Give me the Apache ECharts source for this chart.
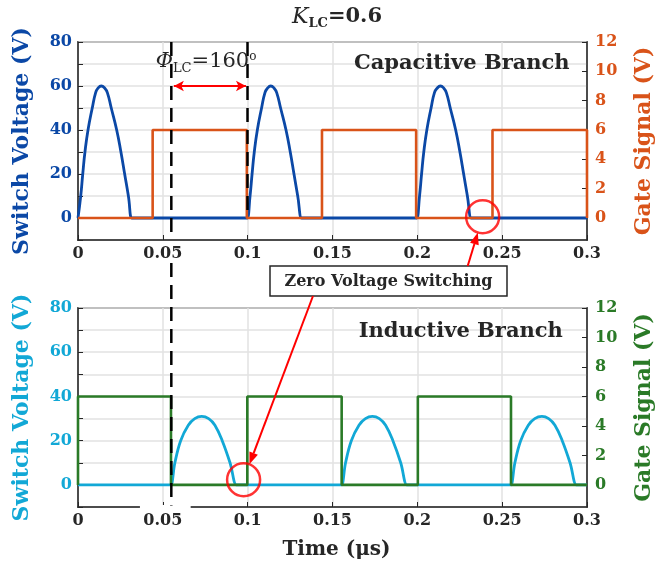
<!DOCTYPE html>
<html><head><meta charset="utf-8">
<script src="https://cdn.jsdelivr.net/npm/echarts@6/dist/echarts.min.js"></script>
<style>html,body{margin:0;padding:0;background:#fff}#c{width:655px;height:564px}</style>
</head><body><div id="c"></div>
<script>
// ---- data ----
const xTickValues = [0, 0.05, 0.1, 0.15, 0.2, 0.25, 0.3];
const voltTickValues = [0, 20, 40, 60, 80];
const gateTickValues = [0, 2, 4, 6, 8, 10, 12];

// Capacitive branch switch voltage (V) vs time (us)
const capSwitchT = [0, 0.0016, 0.0028, 0.0041, 0.0059, 0.0084, 0.0104, 0.0118, 0.0137, 0.0158, 0.0173, 0.0196, 0.0228, 0.0253, 0.0275, 0.0297, 0.0316, 0.0321,
  0.0993, 0.0998, 0.1014, 0.1026, 0.1039, 0.1057, 0.1082, 0.1102, 0.1117, 0.1136, 0.1156, 0.1171, 0.1194, 0.1226, 0.1251, 0.1273, 0.1295, 0.1318, 0.1323,
  0.1992, 0.1997, 0.2013, 0.2025, 0.2038, 0.2056, 0.2081, 0.2101, 0.2117, 0.2136, 0.2156, 0.2171, 0.2194, 0.2226, 0.2251, 0.2273, 0.2295, 0.2318, 0.2323, 0.3];
const capSwitchV = [0, 10, 20, 30, 40, 50, 57, 59, 60, 59, 57, 50, 40, 30, 20, 10, 0, 0,
  0, 0, 10, 20, 30, 40, 50, 57, 59, 60, 59, 57, 50, 40, 30, 20, 10, 0, 0,
  0, 0, 10, 20, 30, 40, 50, 57, 59, 60, 59, 57, 50, 40, 30, 20, 10, 0, 0, 0];
// Capacitive branch gate signal (V)
const capGateT = [0, 0.044, 0.044, 0.0995, 0.0995, 0.1438, 0.1438, 0.1993, 0.1993, 0.2443, 0.2443, 0.3, 0.3];
const capGateV = [0, 0, 6, 6, 0, 0, 6, 6, 0, 0, 6, 6, 0];

// Inductive branch switch voltage (V)
const indSwitchT = [0, 0.0543, 0.0548, 0.0571, 0.0605, 0.0650, 0.0688, 0.0729, 0.0770, 0.0807, 0.0850, 0.0896, 0.0933, 0.0938,
  0.1549, 0.1554, 0.1577, 0.1611, 0.1656, 0.1694, 0.1735, 0.1776, 0.1813, 0.1856, 0.1902, 0.1938, 0.1943,
  0.2547, 0.2552, 0.2575, 0.2609, 0.2654, 0.2692, 0.2734, 0.2774, 0.2811, 0.2854, 0.2900, 0.2937, 0.2942, 0.3];
const indSwitchV = [0, 0, 0, 10, 20, 27, 30, 31, 30, 27, 20, 10, 0, 0,
  0, 0, 10, 20, 27, 30, 31, 30, 27, 20, 10, 0, 0,
  0, 0, 10, 20, 27, 30, 31, 30, 27, 20, 10, 0, 0, 0];
// Inductive branch gate signal (V)
const indGateT = [0, 0, 0.0548, 0.0548, 0.0998, 0.0998, 0.1554, 0.1554, 0.2003, 0.2003, 0.2552, 0.2552, 0.3];
const indGateV = [0, 6, 6, 0, 0, 6, 6, 0, 0, 6, 6, 0, 0];

// annotations (data coordinates)
const phaseStart = 0.055, phaseEnd = 0.0995, phaseArrowY = 60;
const zvsCap = [0.2385, 0.6];
const zvsInd = [0.0976, 2.3];

// ---- styling ----
const FONT = 'DejaVu Serif';
const INK = '#262626';
const C_BLUE = '#0b48a6', C_ORANGE = '#d95319', C_CYAN = '#12a8d6', C_GREEN = '#2a7a27';
const zip = (a, b) => a.map((v, i) => [v, b[i]]);

const chart = echarts.init(document.getElementById('c'), null, {renderer: 'canvas'});

function xAxis(gi, showName) {
  return {
    type: 'value', gridIndex: gi, min: 0, max: 0.3, interval: 0.05,
    name: showName ? 'Time (μs)' : '', nameLocation: 'middle', nameGap: 33,
    nameTextStyle: {fontFamily: FONT, fontWeight: 'bold', fontSize: 20, color: INK, padding: [0, 0, 0, 8]},
    axisLine: {show: true, onZero: false, lineStyle: {color: INK, width: 1.5}},
    axisTick: {show: true, inside: true, length: 5, lineStyle: {color: INK, width: 1}},
    axisLabel: {fontFamily: FONT, fontWeight: 'bold', fontSize: 16, color: INK, margin: 6,
      customValues: xTickValues, formatter: v => String(+v.toFixed(2))},
    splitLine: {show: true, lineStyle: {color: '#e2e2e2', width: 1.5}}
  };
}
function yLeft(gi, color) {
  return {
    type: 'value', gridIndex: gi, min: -10, max: 80, interval: 10, position: 'left',
    name: 'Switch Voltage (V)', nameLocation: 'middle', nameGap: 45,
    nameTextStyle: {fontFamily: FONT, fontWeight: 'bold', fontSize: 22, color: color},
    axisLine: {show: true, lineStyle: {color: INK, width: 1.5}},
    axisTick: {show: true, inside: true, length: 5, lineStyle: {color: INK, width: 1}},
    axisLabel: {fontFamily: FONT, fontWeight: 'bold', fontSize: 16, color: color, margin: 6,
      customValues: voltTickValues},
    splitLine: {show: true, lineStyle: {color: '#e2e2e2', width: 1.5}}
  };
}
function yRight(gi, color) {
  return {
    type: 'value', gridIndex: gi, min: -1.5, max: 12, position: 'right',
    name: 'Gate Signal (V)', nameLocation: 'middle', nameGap: 46,
    nameTextStyle: {fontFamily: FONT, fontWeight: 'bold', fontSize: 22, color: color},
    axisLine: {show: true, lineStyle: {color: INK, width: 1.5}},
    axisTick: {show: true, inside: true, length: 5, customValues: gateTickValues, lineStyle: {color: INK, width: 1}},
    axisLabel: {fontFamily: FONT, fontWeight: 'bold', fontSize: 16, color: color, margin: 8,
      customValues: gateTickValues},
    splitLine: {show: false}
  };
}
const dashStyle = {color: '#000', width: 2.5, type: [14, 8]};

chart.setOption({
  animation: false,
  backgroundColor: '#fff',
  grid: [
    {left: 78, right: 68, top: 42, height: 198, show: true, borderColor: INK, borderWidth: 1.5, outerBoundsMode: 'none', containLabel: false},
    {left: 78, right: 68, top: 308, height: 199, show: true, borderColor: INK, borderWidth: 1.5, outerBoundsMode: 'none', containLabel: false}
  ],
  xAxis: [xAxis(0, false), xAxis(1, true)],
  yAxis: [yLeft(0, C_BLUE), yRight(0, C_ORANGE), yLeft(1, C_CYAN), yRight(1, C_GREEN)],
  series: [
    {type: 'line', xAxisIndex: 0, yAxisIndex: 0, data: zip(capSwitchT, capSwitchV), showSymbol: false,
      smooth: 0.5, lineStyle: {color: C_BLUE, width: 2.8}, z: 3,
      markLine: {silent: true, symbol: ['arrow', 'arrow'], symbolSize: [8, 10], label: {show: false},
        lineStyle: {color: '#ff0000', width: 2, type: 'solid'},
        data: [[{coord: [phaseStart + 0.0015, phaseArrowY]}, {coord: [phaseEnd - 0.0005, phaseArrowY]}]]}},
    {type: 'line', xAxisIndex: 0, yAxisIndex: 1, data: zip(capGateT, capGateV), showSymbol: false,
      lineStyle: {color: C_ORANGE, width: 2.6}, z: 4,
      markLine: {silent: true, symbol: 'none', label: {show: false}, lineStyle: dashStyle,
        data: [[{coord: [phaseEnd, 12]}, {coord: [phaseEnd, 0]}]]}},
    {type: 'line', xAxisIndex: 1, yAxisIndex: 2, data: zip(indSwitchT, indSwitchV), showSymbol: false,
      smooth: 0.4, lineStyle: {color: C_CYAN, width: 2.8}, z: 3},
    {type: 'line', xAxisIndex: 1, yAxisIndex: 3, data: zip(indGateT, indGateV), showSymbol: false,
      lineStyle: {color: C_GREEN, width: 2.6}, z: 4},
    {type: 'scatter', xAxisIndex: 0, yAxisIndex: 0, data: [zvsCap], symbol: 'circle', symbolSize: 33,
      itemStyle: {color: 'rgba(0,0,0,0)', borderColor: '#ff0000', borderWidth: 2.5}, z: 10, silent: true},
    {type: 'scatter', xAxisIndex: 1, yAxisIndex: 2, data: [zvsInd], symbol: 'circle', symbolSize: 33,
      itemStyle: {color: 'rgba(0,0,0,0)', borderColor: '#ff0000', borderWidth: 2.5}, z: 10, silent: true}
  ]
});

// ---- annotation graphics positioned through the chart's own scales ----
const p = (xi, yi, pt) => chart.convertToPixel({xAxisIndex: xi, yAxisIndex: yi}, pt);
const dashTop = p(0, 0, [phaseStart, 80]);
const dashTopEnd = p(0, 0, [phaseStart, -10]);
const dashBotStart = p(1, 2, [phaseStart, 80]);
const dashBot = p(1, 2, [phaseStart, -9.3]);
const gapL = p(1, 2, [0.0365, -10]);
const gapR = p(1, 2, [0.0664, -10]);
const cCap = p(0, 0, zvsCap);
const cInd = p(1, 2, zvsInd);
const capLbl = p(0, 0, [0.2262, 70]);
const indLbl = p(1, 2, [0.2256, 69.5]);
const phiLbl = p(0, 0, [0.0755, 70.5]);

function arrow(tail, center, r) {
  const dx = tail[0] - center[0], dy = tail[1] - center[1];
  const L = Math.hypot(dx, dy), ux = dx / L, uy = dy / L;
  const tip = [center[0] + ux * r, center[1] + uy * r];
  const hl = 12, hw = 4.5;
  const base = [tip[0] + ux * hl, tip[1] + uy * hl];
  return [
    {type: 'line', z: 50, shape: {x1: tail[0], y1: tail[1], x2: base[0], y2: base[1]}, style: {stroke: '#ff0000', lineWidth: 2}},
    {type: 'polygon', z: 50, shape: {points: [tip, [base[0] - uy * hw, base[1] + ux * hw], [base[0] + uy * hw, base[1] - ux * hw]]},
      style: {fill: '#ff0000'}}
  ];
}
const boxX = 270, boxY = 266, boxW = 237, boxH = 30;

chart.setOption({
  graphic: [
    {type: 'rect', z: 20, shape: {x: gapL[0], y: gapL[1] - 2, width: gapR[0] - gapL[0], height: 4}, style: {fill: '#fff'}},
    {type: 'line', z: 30, shape: {x1: dashTop[0], y1: dashTop[1], x2: dashTopEnd[0], y2: dashTopEnd[1] - 6},
      style: {stroke: '#000', lineWidth: 2.5, lineDash: [14, 8]}},
    {type: 'line', z: 30, shape: {x1: dashBotStart[0], y1: dashBotStart[1] - 45, x2: dashBot[0], y2: dashBot[1]},
      style: {stroke: '#000', lineWidth: 2.5, lineDash: [14, 8]}},
    {type: 'text', z: 40, x: 337, y: 18, style: {
      text: '{k|K}{s|LC}{b|=0.6}', align: 'center', verticalAlign: 'middle',
      rich: {
        k: {fontFamily: FONT, fontStyle: 'italic', fontSize: 22, fill: INK, verticalAlign: 'top', lineHeight: 24},
        s: {fontFamily: FONT, fontWeight: 'bold', fontSize: 13, fill: INK, verticalAlign: 'top', lineHeight: 13, padding: [11, 0, 0, 0]},
        b: {fontFamily: FONT, fontWeight: 'bold', fontSize: 21, fill: INK, verticalAlign: 'top', lineHeight: 24}
      }}},
    {type: 'text', z: 40, x: phiLbl[0], y: phiLbl[1], style: {
      text: '{k|Φ}{s|LC}{b|=160}{o|o}', align: 'center', verticalAlign: 'middle',
      rich: {
        k: {fontFamily: FONT, fontStyle: 'italic', fontSize: 21, fill: INK, verticalAlign: 'top', lineHeight: 24},
        s: {fontFamily: FONT, fontSize: 13, fill: INK, verticalAlign: 'top', lineHeight: 13, padding: [11, 0, 0, 0]},
        b: {fontFamily: FONT, fontSize: 21, fill: INK, verticalAlign: 'top', lineHeight: 24},
        o: {fontFamily: FONT, fontSize: 12, fill: INK, verticalAlign: 'top', lineHeight: 12}
      }}},
    {type: 'text', z: 40, x: capLbl[0], y: capLbl[1], style: {text: 'Capacitive Branch', align: 'center', verticalAlign: 'middle',
      fontFamily: FONT, fontWeight: 'bold', fontSize: 21, fill: INK}},
    {type: 'text', z: 40, x: indLbl[0], y: indLbl[1], style: {text: 'Inductive Branch', align: 'center', verticalAlign: 'middle',
      fontFamily: FONT, fontWeight: 'bold', fontSize: 21, fill: INK}},
    {type: 'rect', z: 45, shape: {x: boxX, y: boxY, width: boxW, height: boxH}, style: {fill: '#fff', stroke: INK, lineWidth: 1.5}},
    {type: 'text', z: 46, x: boxX + boxW / 2, y: boxY + boxH / 2 + 1, style: {text: 'Zero Voltage Switching', align: 'center', verticalAlign: 'middle',
      fontFamily: FONT, fontWeight: 'bold', fontSize: 16, fill: INK}},
    ...arrow([467.7, boxY], cCap, 16.5),
    ...arrow([313, boxY + boxH], cInd, 16.5)
  ]
});
</script></body></html>
